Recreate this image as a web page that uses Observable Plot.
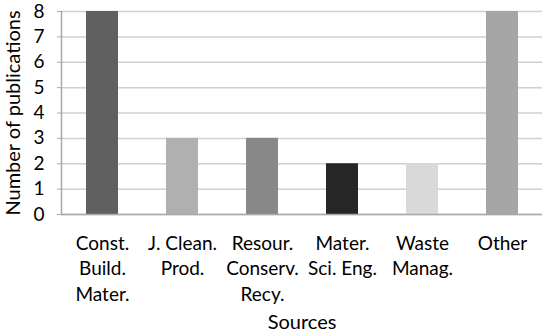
<!DOCTYPE html>
<html>
<head>
<meta charset="utf-8">
<script src="https://cdn.jsdelivr.net/npm/d3@7"></script>
<script src="https://cdn.jsdelivr.net/npm/@observablehq/plot@0.6"></script>
<style>
  html, body { margin: 0; padding: 0; background: #fff; }
  #chart { width: 550px; height: 336px; }
</style>
</head>
<body>
<div id="chart"></div>
<script>
const categories = ["Const.\nBuild.\nMater.", "J. Clean.\nProd.", "Resour.\nConserv.\nRecy.", "Mater.\nSci. Eng.", "Waste\nManag.", "Other"];
const values = [8, 3, 3, 2, 2, 8];
const yTicks = [0, 1, 2, 3, 4, 5, 6, 7, 8];
const barColors = ["#606060", "#b0b0b0", "#888888", "#262626", "#d9d9d9", "#a6a6a6"];

const data = categories.map((c, i) => ({source: c, count: values[i]}));

const chart = Plot.plot({
  width: 550,
  height: 336,
  marginLeft: 61,
  marginRight: 8,
  marginTop: 11,
  marginBottom: 122,
  style: {fontFamily: "Lato, 'Open Sans', sans-serif", fontSize: "17px", color: "#000", background: "#fff"},
  x: {domain: categories, paddingInner: 0.6, paddingOuter: 0.3, label: null},
  y: {domain: [0, 8], label: null},
  color: {domain: categories, range: barColors},
  marks: [
    Plot.gridY(yTicks, {stroke: "#d0d0d0", strokeOpacity: 1, strokeWidth: 1.5}),
    Plot.barY(data, {x: "source", y: "count", fill: "source"}),
    Plot.ruleY([0], {stroke: "#a8a8a8", strokeWidth: 1.5}),
    Plot.frame({anchor: "left", stroke: "#a8a8a8", strokeWidth: 1.5}),
    Plot.axisY(yTicks, {tickSize: 4, tickPadding: 13, stroke: "#a8a8a8", fontSize: 19, label: null, color: "#000"}),
    Plot.axisX({tickSize: 0, tickPadding: 17, fontSize: 19, lineHeight: 1.35, label: null}),
    Plot.text(["Sources"], {frameAnchor: "bottom", dy: 114, fontSize: 20, fill: "#000"}),
    Plot.text(["Number of publications"], {frameAnchor: "left", textAnchor: "middle", dx: -48, rotate: -90, fontSize: 20, fill: "#000"})
  ]
});
document.getElementById("chart").appendChild(chart);
</script>
</body>
</html>
